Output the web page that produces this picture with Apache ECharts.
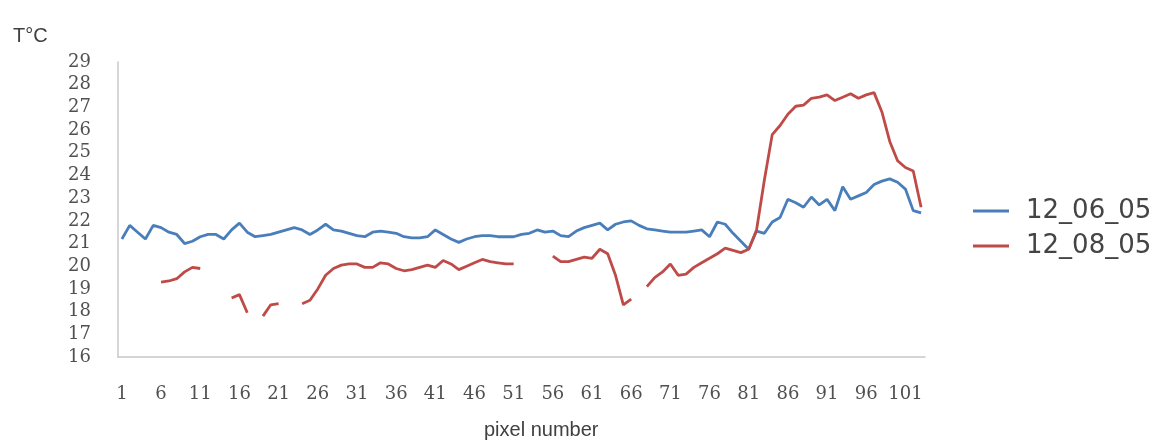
<!DOCTYPE html>
<html>
<head>
<meta charset="utf-8">
<title>T°C by pixel number</title>
<script src="https://cdn.jsdelivr.net/npm/echarts@6/dist/echarts.min.js"></script>
<style>
  html, body { margin: 0; padding: 0; background: #ffffff; }
  #chart { width: 1155px; height: 444px; }
</style>
</head>
<body>
<div id="chart"></div>
<script>
// Pixel numbers along the scan line (1..103)
const pixels = [];
for (let i = 1; i <= 103; i++) pixels.push(String(i));

// Temperature profile, 12_06_05
const series0605 = [
  21.2, 21.8, 21.5, 21.2, 21.8, 21.7, 21.5, 21.4, 21.0, 21.1,
  21.3, 21.4, 21.4, 21.2, 21.6, 21.9, 21.5, 21.3, 21.35, 21.4,
  21.5, 21.6, 21.7, 21.6, 21.4, 21.6, 21.85, 21.6, 21.55, 21.45,
  21.35, 21.3, 21.5, 21.55, 21.5, 21.45, 21.3, 21.25, 21.25, 21.3,
  21.6, 21.4, 21.2, 21.05, 21.2, 21.3, 21.35, 21.35, 21.3, 21.3,
  21.3, 21.4, 21.45, 21.6, 21.5, 21.55, 21.35, 21.3, 21.55, 21.7,
  21.8, 21.9, 21.6, 21.85, 21.95, 22.0, 21.8, 21.65, 21.6, 21.55,
  21.5, 21.5, 21.5, 21.55, 21.6, 21.3, 21.95, 21.85, 21.45, 21.1,
  20.75, 21.55, 21.45, 21.95, 22.15, 22.95, 22.8, 22.6, 23.05, 22.7,
  22.95, 22.45, 23.5, 22.95, 23.1, 23.25, 23.6, 23.75, 23.85, 23.7,
  23.4, 22.45, 22.35
];

// Temperature profile, 12_08_05 (null where no reading)
const series0805 = [
  null, null, null, null, null, 19.3, 19.35, 19.45, 19.75, 19.95,
  19.9, null, null, null, 18.6, 18.75, 17.95, null, 17.8, 18.3,
  18.35, null, null, 18.35, 18.5, 19.0, 19.6, 19.9, 20.05, 20.1,
  20.1, 19.95, 19.95, 20.15, 20.1, 19.9, 19.8, 19.85, 19.95, 20.05,
  19.95, 20.25, 20.1, 19.85, 20.0, 20.15, 20.3, 20.2, 20.15, 20.1,
  20.1, null, null, null, null, 20.45, 20.2, 20.2, 20.3, 20.4,
  20.35, 20.75, 20.55, 19.6, 18.3, 18.55, null, 19.1, 19.5, 19.75,
  20.1, 19.6, 19.65, 19.95, 20.15, 20.35, 20.55, 20.8, 20.7, 20.6,
  20.75, 21.6, 23.8, 25.8, 26.2, 26.7, 27.05, 27.1, 27.4, 27.45,
  27.55, 27.3, 27.45, 27.6, 27.4, 27.55, 27.65, 26.8, 25.5, 24.65,
  24.35, 24.2, 22.6
];

const seriesNames = ['12_06_05', '12_08_05'];
const seriesColors = ['#4A7EBB', '#BE4B48'];
const yMin = 16, yMax = 29, yStep = 1;

const chart = echarts.init(document.getElementById('chart'), null, { renderer: 'canvas' });

const tickFont = {
  fontFamily: 'DejaVu Serif',
  fontSize: 18,
  color: '#505050'
};

chart.setOption({
  animation: false,
  backgroundColor: '#ffffff',
  grid: { left: 118, right: 230, top: 62, bottom: 87 },
  legend: {
    orient: 'vertical',
    left: 968,
    top: 193,
    itemWidth: 36,
    itemHeight: 3,
    itemGap: 9,
    icon: 'rect',
    data: seriesNames,
    textStyle: {
      fontFamily: 'DejaVu Sans',
      fontSize: 26,
      color: '#444444',
      padding: [0, 0, 0, 12]
    }
  },
  xAxis: {
    type: 'category',
    data: pixels,
    boundaryGap: true,
    axisLine: { show: true, lineStyle: { color: '#c8c8c8', width: 1.5 } },
    axisTick: { show: false },
    axisLabel: Object.assign({ interval: 4, margin: 28 }, tickFont),
    splitLine: { show: false }
  },
  yAxis: {
    type: 'value',
    min: yMin,
    max: yMax,
    interval: yStep,
    axisLine: { show: true, lineStyle: { color: '#c8c8c8', width: 1.5 } },
    axisTick: { show: false },
    axisLabel: Object.assign({ margin: 27 }, tickFont),
    splitLine: { show: false }
  },
  graphic: [
    {
      type: 'text',
      left: 13,
      top: 26,
      style: {
        text: 'T°C',
        fontFamily: 'Liberation Sans',
        fontSize: 20,
        fill: '#404040'
      }
    },
    {
      type: 'text',
      left: 484,
      top: 420,
      style: {
        text: 'pixel number',
        fontFamily: 'Liberation Sans',
        fontSize: 20,
        fill: '#404040'
      }
    }
  ],
  series: [
    {
      name: seriesNames[0],
      type: 'line',
      data: series0605,
      symbol: 'none',
      connectNulls: false,
      lineStyle: { color: seriesColors[0], width: 2.8 },
      itemStyle: { color: seriesColors[0] }
    },
    {
      name: seriesNames[1],
      type: 'line',
      data: series0805,
      symbol: 'none',
      connectNulls: false,
      lineStyle: { color: seriesColors[1], width: 2.8 },
      itemStyle: { color: seriesColors[1] }
    }
  ]
});
</script>
</body>
</html>
